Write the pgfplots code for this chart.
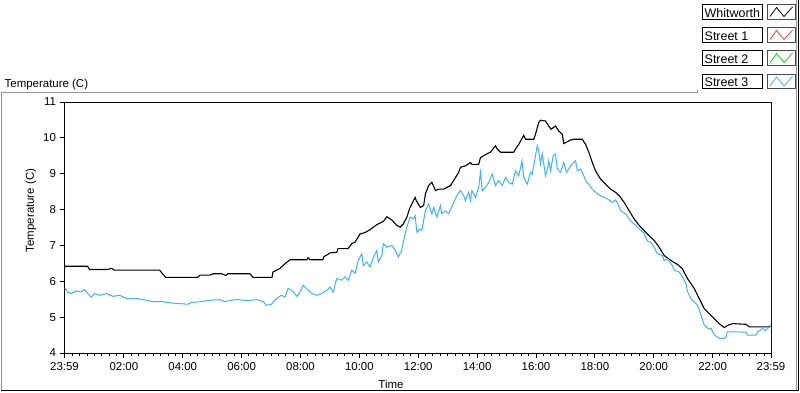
\documentclass[border=0pt]{standalone}
\usepackage{fontspec}
\setmainfont{Liberation Sans}
\usepackage{pgfplots}
\usepackage{pgfplotstable}
\pgfplotsset{compat=1.18}
\definecolor{s3}{RGB}{60,180,245}
\definecolor{s1}{RGB}{255,60,60}
\definecolor{s2}{RGB}{0,220,0}
\definecolor{frm}{RGB}{150,150,150}

\pgfplotstableread{
h v
0 6.36
0.02 6.42
0.78 6.42
0.85 6.33
1.46 6.33
1.60 6.36
1.70 6.31
3.23 6.31
3.34 6.2
3.44 6.11
4.53 6.11
4.60 6.17
4.94 6.17
5.04 6.21
5.34 6.21
5.48 6.16
5.55 6.21
6.30 6.21
6.40 6.11
7.05 6.11
7.08 6.26
7.32 6.36
7.49 6.49
7.66 6.6
8.23 6.6
8.27 6.66
8.34 6.6
8.78 6.6
8.80 6.68
9.02 6.79
9.25 6.81
9.29 6.91
9.63 6.91
9.76 7.05
9.87 7.09
10.04 7.32
10.21 7.36
10.38 7.44
10.61 7.58
10.83 7.67
10.95 7.8
11.12 7.71
11.29 7.56
11.40 7.51
11.51 7.6
11.63 7.79
11.74 8.06
11.91 8.34
11.95 8.25
12.09 8.06
12.20 8.11
12.26 8.44
12.37 8.67
12.48 8.76
12.60 8.53
12.71 8.57
12.88 8.57
13.11 8.67
13.22 8.81
13.39 9.04
13.45 9.18
13.62 9.22
13.79 9.31
13.84 9.26
14.07 9.26
14.13 9.45
14.36 9.56
14.47 9.6
14.64 9.78
14.70 9.69
14.81 9.6
15.26 9.6
15.32 9.69
15.43 9.82
15.60 10.07
15.66 9.96
15.94 9.96
16.00 10.1
16.11 10.43
16.17 10.49
16.34 10.47
16.45 10.33
16.53 10.24
16.68 10.33
16.79 10.19
16.91 10.1
16.96 9.84
17.19 9.94
17.30 9.96
17.59 9.96
17.70 9.82
17.81 9.6
17.93 9.31
18.04 9.08
18.21 8.85
18.38 8.71
18.55 8.57
18.72 8.48
18.84 8.39
19.01 8.2
19.18 7.97
19.35 7.74
19.52 7.56
19.74 7.37
19.91 7.23
20.03 7.14
20.20 6.95
20.37 6.72
20.60 6.58
20.82 6.47
20.99 6.35
21.16 6.08
21.39 5.8
21.56 5.52
21.73 5.24
21.90 5.1
22.07 4.96
22.24 4.82
22.41 4.71
22.55 4.78
22.70 4.82
23.15 4.8
23.26 4.73
23.94 4.73
24 4.76
}\whit

\pgfplotstableread{
h v
0 5.82
0.11 5.7
0.23 5.66
0.40 5.73
0.57 5.71
0.68 5.77
0.79 5.66
0.91 5.56
1.02 5.66
1.19 5.61
1.42 5.66
1.64 5.58
1.87 5.61
2.10 5.52
2.44 5.52
2.78 5.47
3.01 5.43
3.35 5.43
3.57 5.4
3.86 5.38
4.20 5.36
4.31 5.41
4.60 5.43
4.94 5.47
5.28 5.49
5.45 5.43
5.62 5.47
5.85 5.49
6.13 5.47
6.30 5.47
6.53 5.49
6.75 5.43
6.86 5.33
7.03 5.36
7.20 5.52
7.37 5.61
7.49 5.56
7.60 5.8
7.72 5.75
7.89 5.58
8.00 5.7
8.11 5.89
8.28 5.75
8.40 5.66
8.57 5.61
8.74 5.66
8.91 5.75
9.02 5.84
9.13 5.7
9.25 6.08
9.42 6.03
9.53 6.12
9.64 6.03
9.76 6.31
9.87 6.22
9.98 6.58
10.10 6.77
10.15 6.44
10.27 6.54
10.38 6.4
10.50 6.68
10.61 6.86
10.66 6.54
10.78 6.72
10.83 7.05
10.95 6.95
11.12 7.0
11.23 6.86
11.34 6.68
11.40 6.77
11.45 6.86
11.57 7.32
11.63 7.51
11.74 7.79
11.85 7.74
11.91 7.83
11.97 7.37
12.09 7.46
12.14 7.42
12.26 7.97
12.37 8.16
12.48 7.88
12.54 8.06
12.65 7.79
12.77 8.11
12.82 7.88
12.94 7.97
13.05 7.88
13.22 8.2
13.33 8.39
13.45 8.53
13.56 8.39
13.62 8.25
13.73 8.48
13.79 8.25
13.84 8.53
13.96 8.34
14.07 8.62
14.13 9.04
14.19 8.53
14.30 8.62
14.41 8.76
14.53 8.99
14.64 8.67
14.75 8.81
14.87 8.67
14.98 8.9
15.09 8.76
15.21 8.71
15.32 9.08
15.43 8.94
15.54 9.36
15.60 8.9
15.72 8.71
15.83 9.04
15.89 8.99
16.06 9.78
16.11 9.64
16.17 9.27
16.23 9.55
16.34 8.94
16.40 9.13
16.45 9.36
16.51 9.08
16.60 9.5
16.68 9.55
16.74 9.13
16.85 9.04
16.96 9.31
17.05 9.04
17.13 9.13
17.24 9.27
17.36 9.36
17.42 9.08
17.53 9.13
17.62 8.99
17.70 8.81
17.81 8.71
17.93 8.57
18.10 8.44
18.27 8.36
18.44 8.3
18.61 8.2
18.72 8.27
18.80 8.16
18.89 7.97
19.06 7.88
19.23 7.69
19.40 7.56
19.57 7.42
19.68 7.35
19.80 7.12
19.91 7.09
20.03 6.95
20.14 6.77
20.31 6.72
20.37 6.58
20.48 6.63
20.65 6.44
20.71 6.31
20.88 6.26
20.99 6.12
21.11 5.94
21.17 5.7
21.28 5.52
21.39 5.43
21.51 5.33
21.62 5.06
21.73 4.78
21.85 4.69
21.96 4.69
22.07 4.5
22.24 4.41
22.41 4.41
22.47 4.45
22.52 4.59
22.75 4.59
23.15 4.58
23.20 4.5
23.49 4.5
23.55 4.59
23.72 4.69
23.80 4.62
23.89 4.69
24 4.75
}\streetthree

\begin{document}
\begin{tikzpicture}[x=1bp,y=1bp,font=\fontsize{11.5}{13}\selectfont]
\fill[white] (0,0) rectangle (800,392);
% outer panel frame
\draw[frm, line width=1bp] (1.5,2) -- (1.5,300) -- (697,300) -- (697,303);
\draw[black, line width=1bp] (1.5,2) -- (798.5,2) -- (798.5,392);
\draw[frm, line width=1bp] (796.5,3) -- (796.5,392);
% panel title
\node[anchor=base west, inner sep=0] at (4.5,305.5) {Temperature (C)};
% legend
\begin{scope}[font=\fontsize{12.5}{14}\selectfont]
\foreach \yt/\name/\col in {388/Whitworth/black, 365/Street 1/s1, 342/Street 2/s2, 318.5/Street 3/s3}{
  \draw[black, line width=0.8bp] (702.5,\yt) rectangle (762.5,\yt-14.5);
  \node[anchor=base west, inner sep=0] at (704.5,\yt-12.5) {\name};
  \draw[black!70, line width=0.8bp] (767.5,\yt) rectangle (795,\yt-14.5);
  \draw[\col, line width=0.8bp] (770,\yt-12) -- (776.5,\yt-3) -- (784,\yt-12) -- (792.5,\yt-2.5);
}
\end{scope}
\begin{axis}[
  at={(64.5bp,39.5bp)}, anchor=south west,
  scale only axis, width=706.5bp, height=251bp,
  xmin=0, xmax=24, ymin=4, ymax=11,
  xtick={0,2.0167,4.0167,6.0167,8.0167,10.0167,12.0167,14.0167,16.0167,18.0167,20.0167,22.0167,24},
  xticklabels={23:59,02:00,04:00,06:00,08:00,10:00,12:00,14:00,16:00,18:00,20:00,22:00,23:59},
  minor xtick={0.2667,0.5167,...,23.8},
  ytick={4,5,...,11},
  tick align=outside, tick pos=left,
  major tick length=5bp, minor tick length=3bp,
  every tick/.style={black, line width=1bp},
  axis line style={black, line width=1bp},
  /pgf/number format/assume math mode=true,
  ticklabel style={font=\fontsize{11.5}{13}\selectfont},
  xticklabel style={yshift=-0.5bp},
  clip=true,
]
\addplot[black, line width=1.1bp] table[x=h, y=v] {\whit};
\addplot[s3, line width=1bp] table[x=h, y=v] {\streetthree};
\draw[frm, line width=1bp] (rel axis cs:1,0) -- (rel axis cs:1,1);
\end{axis}
\node[anchor=base, inner sep=0] at (391,4.5) {Time};
\node[rotate=90, inner sep=0] at (31,182) {Temperature (C)};
\end{tikzpicture}
\end{document}
